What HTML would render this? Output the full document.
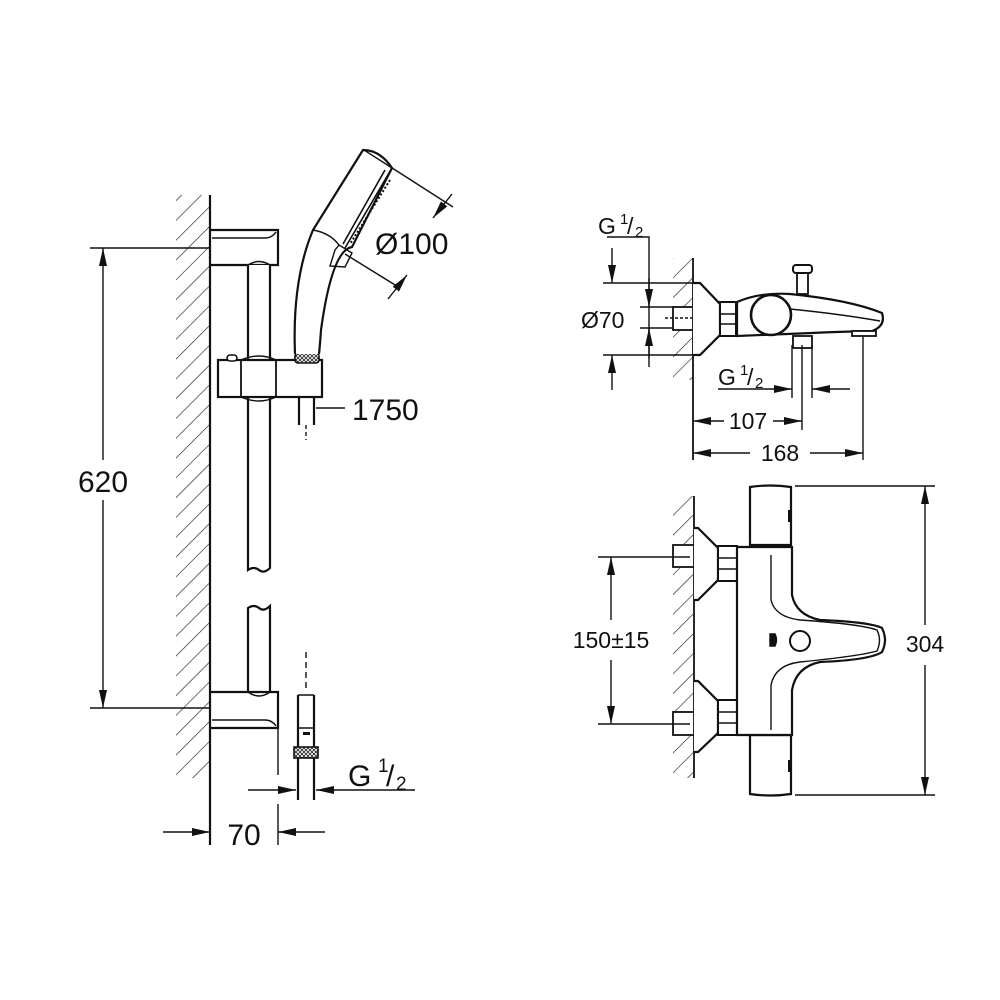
<!DOCTYPE html>
<html><head><meta charset="utf-8"><style>
html,body{margin:0;padding:0;background:#fff}
svg{display:block}
text{font-family:"Liberation Sans",sans-serif;fill:#111}
</style></head><body>
<svg width="1000" height="1000" viewBox="0 0 1000 1000" xmlns="http://www.w3.org/2000/svg">
<defs>
<pattern id="h" patternUnits="userSpaceOnUse" width="14" height="14" patternTransform="rotate(45)">
<line x1="0" y1="0" x2="0" y2="14" stroke="#222" stroke-width="1.3"/>
</pattern>
<pattern id="k" patternUnits="userSpaceOnUse" width="4" height="4">
<rect width="4" height="4" fill="#fff"/><path d="M0 0L4 4M4 0L0 4" stroke="#222" stroke-width="0.8"/>
</pattern>
<marker id="a" markerWidth="18" markerHeight="10" refX="18" refY="5" orient="auto" markerUnits="userSpaceOnUse">
<path d="M0 1L18 5L0 9Z" fill="#111"/></marker>
</defs>
<g stroke="#111" fill="none" stroke-width="1.4">
<!-- LEFT ASSEMBLY -->
<rect x="176" y="195" width="34" height="583" fill="url(#h)" stroke="none"/>
<line x1="210" y1="195" x2="210" y2="845" stroke-width="2.2"/>
<line x1="90" y1="248" x2="210" y2="248"/>
<line x1="90" y1="708" x2="210" y2="708"/>
<line x1="103" y1="460" x2="103" y2="248" marker-end="url(#a)"/>
<line x1="103" y1="500" x2="103" y2="708" marker-end="url(#a)"/>
<path d="M210 230H278V265H210" stroke-width="2.2"/>
<path d="M212 238H265Q272 238 276 232" />
<path d="M210 692H278V728H210" stroke-width="2.2"/>
<path d="M212 720H265Q272 720 276 726"/>
<path d="M248 265V570Q254 566 259 570T270 568V265" stroke-width="2.2" fill="#fff"/>
<path d="M248 692V608Q254 604 259 608T270 606V692" stroke-width="2.2"/>
<path d="M248 692Q259 700 270 692"/>
<path d="M248 265Q259 258 270 265"/>
<rect x="218" y="360" width="104" height="37" stroke-width="2.2" fill="#fff"/>
<line x1="241" y1="360" x2="241" y2="397" stroke-width="1.8"/>
<line x1="276" y1="360" x2="276" y2="397" stroke-width="1.8"/>
<path d="M241 360Q259 352 276 360M241 397Q259 405 276 397"/>
<rect x="227" y="355" width="10" height="6" rx="3" stroke-width="1.6" fill="#fff"/>
<path d="M299 397V425M314 397V425" stroke-width="2.2"/>
<line x1="306" y1="425" x2="306" y2="440" stroke-dasharray="4 3"/>
<line x1="316" y1="408" x2="345" y2="408"/>
<rect x="295" y="353" width="24" height="10" rx="3" fill="url(#k)" stroke-width="1.6"/>
<path d="M295 354Q292 280 313 230L363 150Q380 150 392 168L352 247Q332 250 321 330Q320 345 319 354" stroke-width="2.2" fill="#fff"/>
<path d="M313 230Q330 233 339 245"/>
<path d="M392 168L345 248M385 170L343 244" stroke-width="1.6"/>
<path d="M390 180L350 244" stroke-width="2" stroke-dasharray="2 2"/>
<path d="M339 245L352 253L345 267L330 266L335 250Z" stroke-width="1.4"/>
<line x1="364" y1="150" x2="453" y2="207"/>
<line x1="345" y1="254" x2="400" y2="288"/>
<line x1="452" y1="194" x2="433" y2="218" marker-end="url(#a)"/>
<line x1="388" y1="299" x2="407" y2="275" marker-end="url(#a)"/>
<line x1="306" y1="652" x2="306" y2="692" stroke-dasharray="6 4"/>
<path d="M298 695V800M314 695V800" stroke-width="2.2"/>
<path d="M298 695H314M298 728H314"/>
<rect x="303" y="732" width="7" height="3" fill="#111" stroke="none"/>
<rect x="294" y="747" width="24" height="11" fill="url(#k)" stroke-width="1.6"/>
<line x1="278" y1="728" x2="278" y2="775"/>
<line x1="278" y1="804" x2="278" y2="845"/>
<line x1="248" y1="790" x2="296" y2="790" marker-end="url(#a)"/>
<line x1="415" y1="790" x2="316" y2="790" marker-end="url(#a)"/>
<line x1="163" y1="832" x2="210" y2="832" marker-end="url(#a)"/>
<line x1="325" y1="832" x2="278" y2="832" marker-end="url(#a)"/>

<!-- TOP RIGHT -->
<rect x="673" y="258" width="20" height="122" fill="url(#h)" stroke="none"/>
<line x1="693" y1="258" x2="693" y2="460" stroke-width="1.8"/>
<rect x="673" y="307" width="20" height="23" fill="#fff" stroke-width="1.8"/>
<line x1="665" y1="318" x2="693" y2="318" stroke-dasharray="3 2"/>
<path d="M693 283H700L720 304V335L700 355H693" stroke-width="2.2" fill="#fff"/>
<rect x="720" y="302" width="16" height="34" stroke-width="2" fill="#fff"/>
<path d="M720 314H736M720 324H736"/>
<path d="M737 302Q760 292 790 294Q850 300 882 313Q886 326 872 331Q830 332 812 333L737 336Z" stroke-width="2.2" fill="#fff"/>
<path d="M790 309Q840 314 880 321"/>
<circle cx="771" cy="315" r="20" stroke-width="2.6" fill="#fff"/>
<rect x="797" y="272" width="11" height="22" stroke-width="1.8" fill="#fff"/>
<rect x="793" y="265" width="19" height="8" rx="3" stroke-width="2" fill="#fff"/>
<rect x="793" y="336" width="19" height="12" stroke-width="1.8" fill="#fff"/>
<rect x="852" y="331" width="24" height="5" stroke-width="1.8" fill="#fff"/>
<line x1="603" y1="283" x2="693" y2="283"/>
<line x1="603" y1="355" x2="693" y2="355"/>
<line x1="640" y1="307" x2="673" y2="307"/>
<line x1="640" y1="328" x2="673" y2="328"/>
<path d="M607 237H649V367"/>
<line x1="649" y1="278" x2="649" y2="307" marker-end="url(#a)"/>
<line x1="649" y1="358" x2="649" y2="328" marker-end="url(#a)"/>
<line x1="612" y1="248" x2="612" y2="283" marker-end="url(#a)"/>
<line x1="612" y1="390" x2="612" y2="355" marker-end="url(#a)"/>
<line x1="792" y1="345" x2="792" y2="398"/>
<line x1="802" y1="345" x2="802" y2="430"/>
<line x1="812" y1="345" x2="812" y2="398"/>
<line x1="863" y1="336" x2="863" y2="460"/>
<line x1="718" y1="389" x2="792" y2="389" marker-end="url(#a)"/>
<line x1="850" y1="389" x2="812" y2="389" marker-end="url(#a)"/>
<line x1="724" y1="421" x2="693" y2="421" marker-end="url(#a)"/>
<line x1="773" y1="421" x2="802" y2="421" marker-end="url(#a)"/>
<line x1="750" y1="453" x2="693" y2="453" marker-end="url(#a)"/>
<line x1="810" y1="453" x2="863" y2="453" marker-end="url(#a)"/>

<!-- BOTTOM RIGHT -->
<rect x="673" y="496" width="20" height="282" fill="url(#h)" stroke="none"/>
<line x1="694" y1="496" x2="694" y2="778" stroke-width="1.8"/>
<rect x="673" y="545" width="21" height="22" fill="#fff" stroke-width="1.8"/>
<rect x="673" y="712" width="21" height="23" fill="#fff" stroke-width="1.8"/>
<path d="M694 528H698L718 548V580L698 600H694" stroke-width="2.2" fill="#fff"/>
<path d="M694 681H698L718 701V733L698 752H694" stroke-width="2.2" fill="#fff"/>
<rect x="718" y="546" width="19" height="35" stroke-width="2" fill="#fff"/>
<rect x="718" y="700" width="19" height="35" stroke-width="2" fill="#fff"/>
<path d="M718 558H737M718 569H737M718 712H737M718 723H737"/>
<path d="M750 487Q770 484 791 487V545H750Z" stroke-width="2.2" fill="#fff"/>
<path d="M750 735H791V794Q770 797 750 794Z" stroke-width="2.2" fill="#fff"/>
<path d="M737 547H792V595Q796 615 820 620Q870 622 882 628Q888 640 882 652Q870 660 820 662Q796 667 792 690V735H737Z" stroke-width="2.2" fill="#fff"/>
<path d="M771 555V600Q775 617 800 620Q860 624 877 630Q882 640 877 651Q860 656 800 662Q775 665 771 685V730"/>
<path d="M770 634H775Q778 640 775 646H770Z" fill="#111"/>
<circle cx="800" cy="641" r="10" stroke-width="2"/>
<path d="M789 510V522M789 760V772" stroke-width="2"/>
<line x1="598" y1="557" x2="690" y2="557"/>
<line x1="598" y1="724" x2="690" y2="724"/>
<line x1="611" y1="620" x2="611" y2="557" marker-end="url(#a)"/>
<line x1="611" y1="660" x2="611" y2="724" marker-end="url(#a)"/>
<line x1="795" y1="486" x2="935" y2="486"/>
<line x1="795" y1="795" x2="935" y2="795"/>
<line x1="925" y1="625" x2="925" y2="486" marker-end="url(#a)"/>
<line x1="925" y1="665" x2="925" y2="795" marker-end="url(#a)"/>
</g>
<g font-size="30">
<text x="103" y="492" text-anchor="middle">620</text>
<text x="375" y="254">Ø100</text>
<text x="352" y="420">1750</text>
<text x="348" y="786">G</text><text x="378" y="772" font-size="19">1</text><text x="386" y="786">/</text><text x="396" y="790" font-size="19">2</text>
<text x="244" y="845" text-anchor="middle">70</text>
</g>
<g font-size="23">
<text x="598" y="234">G</text><text x="620" y="224" font-size="15">1</text><text x="627" y="234">/</text><text x="635" y="237" font-size="15">2</text>
<text x="581" y="328">Ø70</text>
<text x="718" y="385">G</text><text x="740" y="375" font-size="15">1</text><text x="747" y="385">/</text><text x="755" y="388" font-size="15">2</text>
<text x="748" y="429" text-anchor="middle">107</text>
<text x="780" y="461" text-anchor="middle">168</text>
<text x="611" y="648" text-anchor="middle">150±15</text>
<text x="925" y="652" text-anchor="middle">304</text>
</g>
</svg>
</body></html>
